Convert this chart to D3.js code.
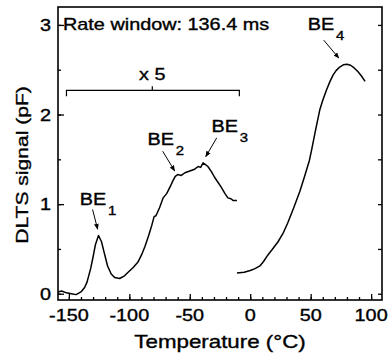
<!DOCTYPE html>
<html>
<head>
<meta charset="utf-8">
<script src="https://cdn.jsdelivr.net/npm/d3@7"></script>
<style>
  body { margin: 0; background: #fff; }
  svg text { font-family: "Liberation Sans", Arial, Helvetica, sans-serif; fill: #000; stroke: #000; stroke-width: 0.35px; }
</style>
</head>
<body>
<div id="chart"></div>
<script>
// low temperature scan (shown x 5)
const lowTemp = [-159, -156, -152, -148, -144, -140, -137, -135, -132, -130, -128, -125.5, -123, -121, -118, -115, -112, -108, -104, -101, -97, -93, -90, -87, -84, -81.5, -79.5, -78, -75, -72, -69, -66, -64, -62, -60, -57, -54, -50, -46, -43, -41, -39, -37, -35, -32, -29.5, -27, -24, -21, -18.5, -16, -14, -11];
const lowSignal = [0.02, 0.03, 0.01, 0.0, -0.01, 0.02, 0.07, 0.13, 0.28, 0.41, 0.55, 0.65, 0.58, 0.47, 0.31, 0.22, 0.18, 0.17, 0.20, 0.24, 0.29, 0.35, 0.43, 0.53, 0.65, 0.76, 0.86, 0.87, 0.96, 1.07, 1.12, 1.20, 1.26, 1.31, 1.33, 1.32, 1.35, 1.37, 1.39, 1.42, 1.41, 1.46, 1.44, 1.42, 1.36, 1.30, 1.25, 1.19, 1.12, 1.07, 1.06, 1.04, 1.04];

// high temperature scan
const highTemp = [-11, -5, 0, 4, 8, 11, 14.5, 18, 23, 27, 31, 36, 41, 45, 49, 51, 53.5, 55.5, 57.5, 60, 63, 66, 68.5, 71, 74, 77, 80, 83, 86, 89, 92, 95];
const highSignal = [0.23, 0.24, 0.26, 0.28, 0.31, 0.36, 0.43, 0.49, 0.58, 0.67, 0.79, 0.96, 1.14, 1.31, 1.49, 1.62, 1.79, 1.92, 2.05, 2.16, 2.27, 2.37, 2.44, 2.49, 2.53, 2.555, 2.56, 2.55, 2.52, 2.48, 2.43, 2.37];

const xTicks = [-150, -100, -50, 0, 50, 100];
const yTicks = [0, 1, 2, 3];

// peak labels: text position + arrow (data coords)
const peakNames = ['1', '2', '3', '4'];
const peakTextT = [-141, -85, -32, 47.6];
const peakTextS = [0.99, 1.66, 1.81, 2.94];
const arrowFromT = [-130.4, -72.4, -27.7, 60.8];
const arrowFromS = [0.94, 1.59, 1.74, 2.83];
const arrowToT = [-126.2, -62.5, -36.8, 73.3];
const arrowToS = [0.72, 1.37, 1.53, 2.63];

// "x 5" bracket
const bracketRange = [-152, -9];
const bracketMid = -81;
const bracketLevel = 2.27;

const W = 389, H = 360;
const mLeft = 58, mRight = 382, mTop = 7, mBottom = 300;
const SX = 1.24; // horizontal stretch of the lettering

const svg = d3.select('#chart').append('svg')
  .attr('width', W).attr('height', H);

const x = d3.scaleLinear().domain([-159, 109]).range([mLeft, mRight]);
const y = d3.scaleLinear().domain([-0.07, 3.2]).range([mBottom, mTop]);

function label(g, px, py, str, size, anchor, extra) {
  return g.append('text')
    .attr('transform', `translate(${px},${py}) ${extra || ''} scale(${SX},1)`)
    .attr('text-anchor', anchor || 'start')
    .style('font-size', size + 'px')
    .text(str);
}

// axes (ticks inward)
svg.append('g').attr('transform', `translate(0,${mBottom})`)
  .call(d3.axisBottom(x).tickValues(d3.range(-150, 101, 10)).tickSize(-3).tickFormat(''));
svg.append('g').attr('transform', `translate(0,${mBottom})`)
  .call(d3.axisBottom(x).tickValues(xTicks).tickSize(-6).tickFormat(''));

svg.append('g').attr('transform', `translate(${mLeft},0)`)
  .call(d3.axisLeft(y).tickValues(d3.range(0, 3.01, 0.5)).tickSize(-3).tickFormat(''));
svg.append('g').attr('transform', `translate(${mLeft},0)`)
  .call(d3.axisLeft(y).tickValues(yTicks).tickSize(-6).tickFormat(''));
svg.append('g').attr('transform', `translate(${mRight},0)`)
  .call(d3.axisRight(y).tickValues(d3.range(0, 3.01, 0.5)).tickSize(-4).tickFormat(''));

svg.selectAll('.domain').remove();
svg.selectAll('.tick line').attr('stroke', '#000').attr('stroke-width', 1.3);

svg.append('rect')
  .attr('x', mLeft).attr('y', mTop)
  .attr('width', mRight - mLeft).attr('height', mBottom - mTop)
  .attr('fill', 'none').attr('stroke', '#000').attr('stroke-width', 1.6);

// tick labels
xTicks.forEach(t => label(svg, x(t), 321, t, 16, 'middle'));
yTicks.forEach(t => label(svg, 51, y(t) + 6, t, 16, 'end'));

// axis titles
label(svg, 220, 348, 'Temperature (°C)', 18, 'middle');
label(svg, 28, 165, 'DLTS signal (pF)', 17, 'middle', 'rotate(-90)');

// header
label(svg, 63, 30, 'Rate window: 136.4 ms', 16, 'start');

// curves
const line = d3.line().x(d => x(d[0])).y(d => y(d[1]));
const curves = [d3.zip(lowTemp, lowSignal), d3.zip(highTemp, highSignal)];
svg.selectAll('path.curve').data(curves).enter()
  .append('path')
  .attr('class', 'curve')
  .attr('d', line)
  .attr('fill', 'none')
  .attr('stroke', '#000')
  .attr('stroke-width', 1.5)
  .attr('stroke-linejoin', 'round');

// bracket x 5
const by = y(bracketLevel);
svg.append('path')
  .attr('d', `M${x(bracketRange[0])},${by + 6}V${by}H${x(bracketRange[1])}V${by + 6}M${x(bracketMid)},${by}V${by - 4}`)
  .attr('fill', 'none').attr('stroke', '#000').attr('stroke-width', 1.2);
label(svg, x(bracketMid), by - 10, 'x 5', 16, 'middle');

// arrow marker
svg.append('defs').append('marker')
  .attr('id', 'head')
  .attr('viewBox', '0 0 10 10')
  .attr('refX', 9).attr('refY', 5)
  .attr('markerWidth', 6).attr('markerHeight', 6)
  .attr('markerUnits', 'userSpaceOnUse')
  .attr('orient', 'auto')
  .append('path').attr('d', 'M0,1L10,5L0,9Z').attr('fill', '#000');

peakNames.forEach((n, i) => {
  const tx = x(peakTextT[i]), ty = y(peakTextS[i]);
  const t = svg.append('text')
    .attr('transform', `translate(${tx},${ty}) scale(${SX},1)`)
    .style('font-size', '16px');
  t.append('tspan').text('BE');
  t.append('tspan').attr('dx', 1.5).attr('dy', 10).style('font-size', '12px').text(n);

  svg.append('line')
    .attr('x1', x(arrowFromT[i])).attr('y1', y(arrowFromS[i]))
    .attr('x2', x(arrowToT[i])).attr('y2', y(arrowToS[i]))
    .attr('stroke', '#000').attr('stroke-width', 1)
    .attr('marker-end', 'url(#head)');
});
</script>
</body>
</html>
